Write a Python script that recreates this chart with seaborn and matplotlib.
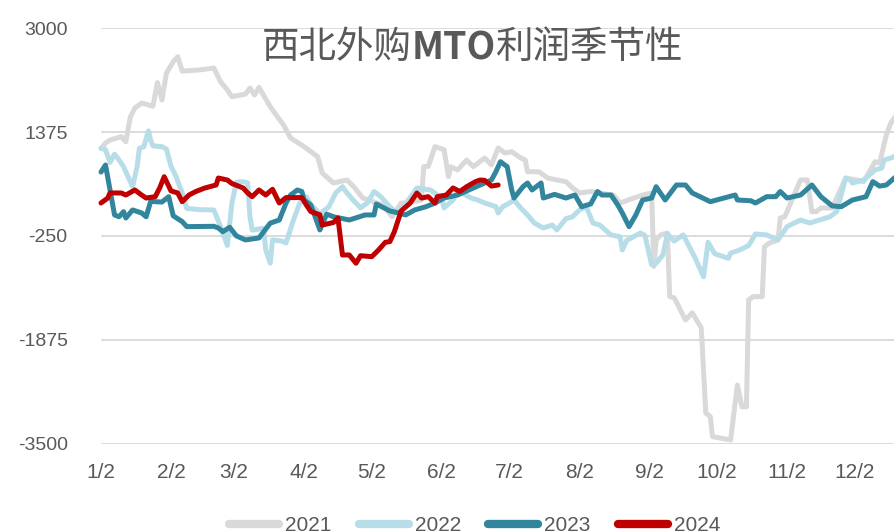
import matplotlib
matplotlib.use('Agg')
import matplotlib.pyplot as plt
import pandas as pd
import seaborn as sns

# 数据: 年内第几天(1月1日=1) 与 利润值
doy_2021 = [2, 4, 6, 11, 13, 15, 17, 20, 23, 25, 27, 29, 31, 34, 36, 38, 46, 52, 55, 58,
            60, 66, 68, 70, 72, 77, 83, 86, 92, 98, 100, 105, 111, 114, 118, 121, 124, 127, 131, 135,
            137, 144, 145, 147, 150, 154, 156, 157, 160, 164, 167, 172, 175, 178, 181, 184, 188, 190, 191, 196,
            200, 204, 208, 211, 214, 219, 223, 229, 232, 238, 243, 246, 247, 248, 250, 253, 254, 256, 261, 264,
            268, 270, 272, 273, 281, 284, 286, 288, 289, 291, 295, 296, 298, 302, 303, 305, 312, 315, 317, 319,
            321, 326, 332, 337, 340, 345, 347, 350, 352, 354]
val_2021 = [1120, 1204, 1250, 1303, 1225, 1610, 1752, 1830, 1800, 1780, 2150, 1878, 2300, 2477, 2555, 2330, 2350, 2378, 2164, 2034,
            1930, 1970, 2065, 1956, 2075, 1773, 1480, 1283, 1147, 990, 735, 578, 625, 520, 343, 312, 265, 234, 50, 265,
            265, 312, 833, 840, 1147, 1100, 677, 833, 782, 938, 833, 970, 860, 1126, 1048, 1068, 970, 938, 755, 755,
            656, 625, 600, 500, 422, 445, 420, 390, 265, 343, 400, 420, -730, -313, -235, -205, -1200, -1220, -1565, -1455,
            -1690, -3022, -3080, -3393, -3445, -2585, -2925, -2925, -1252, -1200, -1200, -420, -365, -313, 30, 50, 625, 625, 130, 130,
            187, 187, 656, 625, 600, 912, 890, 1330, 1517, 1620]

doy_2022 = [2, 4, 6, 8, 10, 12, 16, 18, 19, 21, 23, 24, 25, 29, 31, 33, 35, 38, 40, 46,
            52, 55, 58, 60, 62, 65, 67, 68, 69, 74, 75, 77, 78, 82, 84, 87, 90, 93, 95, 99,
            103, 106, 109, 111, 114, 117, 120, 123, 126, 130, 133, 137, 142, 148, 153, 154, 158, 160, 162, 166,
            169, 172, 177, 178, 180, 183, 185, 188, 191, 194, 198, 202, 204, 208, 211, 214, 217, 220, 223, 228,
            232, 233, 235, 241, 243, 246, 248, 251, 253, 256, 260, 265, 269, 271, 274, 280, 281, 285, 289, 292,
            297, 302, 306, 312, 316, 325, 328, 332, 334, 335, 340, 345, 348, 349, 352, 354]
val_2022 = [1120, 1100, 900, 1030, 938, 833, 520, 833, 1120, 1147, 1395, 1251, 1160, 1147, 1110, 840, 700, 422, 180, 160,
            156, -105, -400, 265, 590, 600, 580, 50, -160, -130, -470, -677, -313, -330, -360, -30, 260, 364, 240, 95,
            207, 422, 520, 422, 300, 190, 265, 445, 364, 207, 109, 250, 500, 469, 343, 187, 312, 445, 422, 343,
            312, 265, 207, 109, 207, 265, 312, 187, 78, -48, -126, -80, -157, 20, 50, 156, 207, -48, -80, -235,
            -263, -470, -320, -205, -240, -700, -677, -548, -220, -330, -235, -575, -890, -350, -530, -600, -520, -470, -400, -220,
            -235, -313, -105, -1, -48, 50, 130, 656, 625, 578, 625, 782, 813, 938, 970, 1000]

doy_2023 = [2, 4, 6, 8, 10, 12, 13, 16, 20, 22, 24, 29, 32, 34, 38, 40, 52, 54, 56, 59,
            62, 66, 72, 77, 81, 84, 86, 89, 91, 92, 95, 99, 102, 105, 112, 119, 123, 124, 130, 134,
            137, 141, 146, 150, 154, 160, 165, 170, 175, 177, 179, 182, 184, 185, 189, 191, 193, 197, 198, 203,
            208, 212, 215, 219, 222, 224, 228, 231, 233, 236, 239, 242, 246, 248, 252, 257, 261, 264, 272, 278,
            283, 284, 290, 292, 297, 301, 303, 306, 312, 317, 321, 326, 330, 335, 341, 344, 347, 350, 354]
val_2023 = [750, 860, 469, 78, 50, 130, 30, 156, 109, 50, 290, 280, 364, 65, -27, -105, -100, -126, -184, -115,
            -250, -313, -282, -50, -1, 265, 390, 469, 445, 312, 234, -157, 90, 50, -1, 78, 78, 250, 140, 109,
            78, 156, 207, 265, 343, 390, 469, 547, 625, 755, 912, 833, 469, 343, 520, 578, 469, 578, 343, 400,
            343, 390, 207, 250, 445, 390, 390, 234, 109, -105, 78, 312, 343, 520, 312, 547, 547, 422, 286, 343,
            390, 312, 300, 265, 364, 364, 445, 343, 390, 547, 364, 220, 207, 312, 364, 600, 530, 547, 670]

doy_2024 = [2, 5, 6, 11, 13, 17, 20, 22, 26, 28, 30, 33, 36, 38, 41, 44, 48, 53, 54, 58,
            60, 65, 67, 69, 72, 75, 78, 81, 84, 91, 93, 95, 99, 100, 105, 107, 109, 112, 115, 117,
            122, 125, 128, 130, 132, 135, 139, 142, 144, 147, 150, 151, 155, 158, 161, 164, 168, 170, 172, 175,
            178]
val_2024 = [265, 343, 422, 422, 390, 469, 390, 343, 364, 500, 677, 455, 422, 286, 390, 445, 500, 547, 656, 625,
            570, 500, 422, 364, 469, 390, 480, 265, 350, 350, 234, 130, 80, -80, -40, 30, -550, -548, -677, -560,
            -575, -470, -350, -340, -184, 140, 265, 422, 343, 364, 265, 364, 390, 500, 445, 520, 600, 625, 620, 530,
            547]

years = ['2021', '2022', '2023', '2024']
colors = ['#d9d9d9', '#b7dee8', '#31859c', '#c00000']
y_ticks = [3000, 1375, -250, -1875, -3500]
x_tick_labels = ['1/2', '2/2', '3/2', '4/2', '5/2', '6/2', '7/2', '8/2', '9/2', '10/2', '11/2', '12/2']
title_parts = ['西北外购', 'MTO', '利润季节性']

# 整理为长表, 统一放在同一个年份的日期轴上
base = pd.Timestamp('2021-01-01')
frames = []
for yr, d, v in zip(years, [doy_2021, doy_2022, doy_2023, doy_2024],
                    [val_2021, val_2022, val_2023, val_2024]):
    frames.append(pd.DataFrame({'date': [base + pd.Timedelta(days=x - 1) for x in d],
                                'value': v, 'year': yr}))
df = pd.concat(frames, ignore_index=True)

sns.set_style('white')
plt.rcParams['font.family'] = ['Liberation Sans', 'DejaVu Sans']

fig = plt.figure(figsize=(8.94, 5.32), dpi=100)
ax = fig.add_axes([101 / 894, 1 - 443.5 / 532, 1 - 101 / 894, (443.5 - 28.3) / 532])

sns.lineplot(data=df, x='date', y='value', hue='year', palette=dict(zip(years, colors)),
             linewidth=3.6, ax=ax, legend=False, estimator=None, sort=False)
for line in ax.get_lines():
    line.set_solid_joinstyle('round')
    line.set_solid_capstyle('round')
    line.set_clip_on(False)

ax.set_ylim(-3500, 3000)
ax.set_xlim(base + pd.Timedelta(days=1), base + pd.Timedelta(days=352.4))
ax.set_yticks(y_ticks)
ax.set_yticklabels([str(t) for t in y_ticks])
month_ticks = [pd.Timestamp(2021, m, 2) for m in range(1, 13)]
ax.set_xticks(month_ticks)
ax.set_xticklabels(x_tick_labels)
ax.set_xlabel('')
ax.set_ylabel('')
ax.grid(axis='y', color='#d9d9d9', linewidth=1.3)
ax.set_axisbelow(True)
for s in ax.spines.values():
    s.set_visible(False)
ax.tick_params(axis='y', length=0, pad=24, labelsize=14, labelcolor='#595959')
ax.tick_params(axis='x', length=0, pad=14, labelsize=15, labelcolor='#595959')

# 标题: MTO 为粗体
cjk = ['Noto Sans CJK SC', 'DejaVu Sans']
t1 = fig.text(262 / 894, 1 - 58 / 532, title_parts[0], fontsize=27, color='#595959', family=cjk)
t2 = ax.annotate(title_parts[1], xy=(1, 0), xycoords=t1, va='bottom', fontsize=27,
                 color='#595959', family=cjk, fontweight='bold')
t3 = ax.annotate(title_parts[2], xy=(1, 0), xycoords=t2, va='bottom', fontsize=27,
                 color='#595959', family=cjk)

# 底部图例
handles = [plt.Line2D([], [], color=c, linewidth=6, solid_capstyle='round') for c in colors]
fig.legend(handles, years, loc='center', bbox_to_anchor=(0.531, 0.012), ncol=4, frameon=False,
           fontsize=15, labelcolor='#595959', handlelength=2.4, columnspacing=1.3, handletextpad=0.3)

fig.savefig('out.png', dpi=100)
